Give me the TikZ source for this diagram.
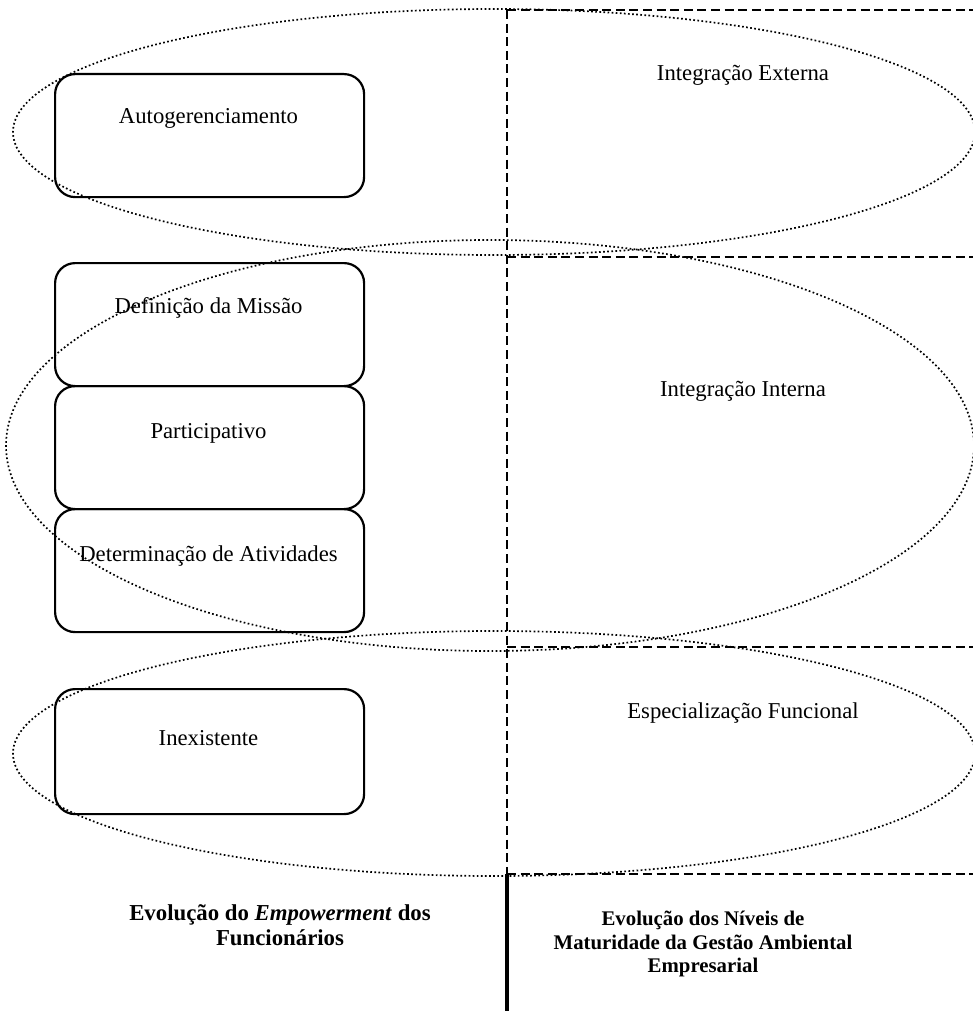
\documentclass[tikz,border=0pt]{standalone}
\usepackage{fontspec}
\setmainfont{Liberation Serif}
\begin{document}
\begin{tikzpicture}[x=0.5pt,y=-0.5pt,
  dotline/.style={line width=0.85pt, dash pattern=on 0.85pt off 1.2pt},
  dashline/.style={line width=1.2pt, dash pattern=on 4.5pt off 2.3pt},
  stagebox/.style={draw, line width=1.1pt, rounded corners=10pt, minimum width=154.5pt, minimum height=61.5pt, inner sep=0pt, anchor=north west},
  boxtext/.style={font=\fontsize{11.35}{13}\selectfont, anchor=base, inner sep=0pt},
  titletext/.style={font=\fontsize{10.4}{11.75}\selectfont\bfseries, align=center, inner sep=0pt},
  thickline/.style={line width=2.2pt}]
\useasboundingbox (0,0) rectangle (973,1011);

% dotted ellipses
\draw[dotline] (494,132) ellipse [x radius=240.5pt, y radius=61.5pt];
\draw[dotline] (490,445.5) ellipse [x radius=242pt, y radius=102.75pt];
\draw[dotline] (494,753.5) ellipse [x radius=240.5pt, y radius=61.25pt];

% right dashed columns
\coordinate (c0) at (507,10);
\coordinate (c1) at (507,257);
\coordinate (c2) at (507,647);
\coordinate (c3) at (507,874);
\coordinate (e0) at (973,10);
\coordinate (e1) at (973,257);
\coordinate (e2) at (973,647);
\coordinate (e3) at (973,874);
\coordinate (bot) at (507,1011);
\draw[dashline] (c0) -- (c3);
\draw[dashline] (c0) -- (e0);
\draw[dashline] (c1) -- (e1);
\draw[dashline] (c2) -- (e2);
\draw[dashline] (c3) -- (e3);
\draw[thickline] (c3) -- (bot);

% left boxes
\node[stagebox] (auto) at (54,73) {};
\node[stagebox] (def) at (54,262) {};
\node[stagebox] (part) at (54,385) {};
\node[stagebox] (det) at (54,508) {};
\node[stagebox, minimum height=62.5pt] (inex) at (54,688) {};

\node[boxtext] (tauto) at (208.5,124) {Autogerenciamento};
\node[boxtext] (tdef) at (208.5,313) {Definição da Missão};
\node[boxtext] (tpart) at (208.5,438) {Participativo};
\node[boxtext] (tdet) at (208.5,561) {Determinação de Atividades};
\node[boxtext] (tinex) at (208.5,745) {Inexistente};

% right labels
\node[boxtext] (ext) at (743,81) {Integração Externa};
\node[boxtext] (int) at (743,396) {Integração Interna};
\node[boxtext] (esp) at (743,718) {Especialização Funcional};

% titles
\node[titletext, font=\fontsize{11.4}{12.5}\selectfont\bfseries] (tleft) at (280,925) {Evolução do \textit{Empowerment} dos\\Funcionários};
\node[titletext] (tright) at (703,944) {Evolução dos Níveis de\\Maturidade da Gestão Ambiental\\Empresarial};
\end{tikzpicture}
\end{document}
